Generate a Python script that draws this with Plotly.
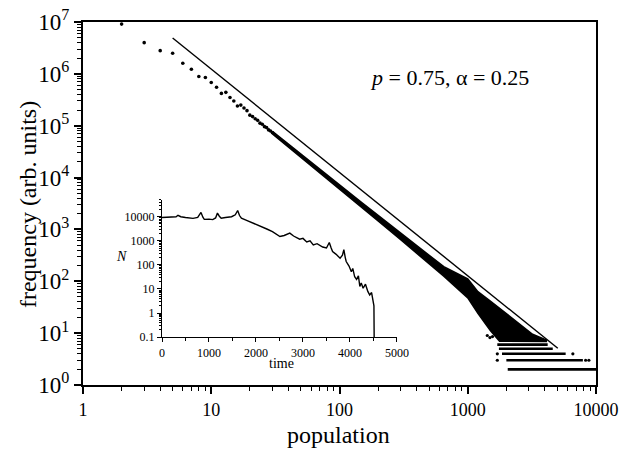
import plotly.graph_objects as go

# ---------------- data ----------------
# individual points (population, frequency) at small populations
pop_sparse = [2, 3, 4, 5, 6, 7, 8, 9, 10, 11, 12, 13, 14, 15, 16, 17, 18, 19, 20,
              21, 22, 23, 24, 25, 26, 27, 28, 29, 30]
freq_sparse = [9.1e6, 4.0e6, 2.8e6, 2.5e6, 1.6e6, 1.23e6, 8.9e5, 8.5e5, 6.8e5, 5.5e5,
               4.2e5, 4.4e5, 3.5e5, 3.0e5, 2.4e5, 2.5e5, 2.2e5, 1.95e5, 1.6e5,
               1.5e5, 1.36e5, 1.27e5, 1.12e5, 1.07e5, 9.6e4, 9.2e4, 8.3e4, 7.9e4, 7.3e4]

# dense cloud of points: upper and lower envelope
band_pop_upper = [30, 60, 100, 150, 200, 300, 450, 650, 1000, 1200, 1500, 1770, 2200, 2600,
                  3200, 4100]
band_freq_upper = [77600, 19500, 7240, 3240, 1860, 851, 389, 191, 112, 63, 41.7, 30.2,
                   20.0, 14.1, 9.5, 7.4]
band_pop_lower = [4100, 1770, 1500, 1200, 1000, 650, 450, 300, 200, 150, 100, 60, 30]
band_freq_lower = [6.9, 7.0, 11.2, 24.0, 47.9, 126, 275, 631, 1462, 2630, 6030, 17200, 69200]

# scattered outliers in the tail
pop_out = [1420, 1490, 1560, 2140, 2420, 2570, 2720, 3060, 3450, 1700, 6600, 1700, 8300, 8800]
freq_out = [9.0, 8.2, 8.6, 17.9, 14.4, 12.4, 11.5, 7.9, 7.4, 4, 4, 3, 3, 3]

# discrete frequency rows in the tail
row_freq = [6, 5, 4, 3, 2]
row_start = [1700, 1750, 1850, 2000, 2050]
row_end = [4200, 4600, 5800, 7900, 10000]

# reference power-law line (end points)
fit_pop = [5, 5035]
fit_freq = [4.9e6, 5.1]

# inset: N versus time
time_vals = [0, 100, 200, 300, 340, 400, 500, 600, 660, 760, 830, 870, 900, 1000, 1080, 1140,
             1180, 1220, 1260, 1350, 1480, 1560, 1610, 1650, 1690, 1800, 1940, 2050, 2150,
             2230, 2350, 2450, 2510, 2600, 2720, 2800, 2930, 3000, 3080, 3150, 3220, 3300,
             3420, 3500, 3560, 3600, 3630, 3700, 3790, 3840, 3870, 3900, 3920, 3980, 4030,
             4060, 4100, 4140, 4180, 4210, 4240, 4280, 4330, 4380, 4420, 4460, 4490, 4510, 4515]
N_vals = [9330, 9550, 9120, 10000, 11500, 10000, 9330, 8910, 8510, 9330, 15100, 9550, 7760,
          7940, 7590, 8910, 14100, 10500, 8710, 9330, 10000, 12000, 18200, 11200, 8710, 7080,
          5500, 4470, 3550, 3090, 2400, 1860, 1510, 1660, 2090, 1580, 1170, 1260, 890, 1000,
          680, 760, 550, 500, 850, 500, 355, 280, 190, 250, 430, 200, 138, 89, 52, 71, 32,
          25, 35, 12.6, 17.8, 10.7, 15.8, 7.9, 5.6, 7.1, 3.5, 2.0, 0.1]

main_ticks = [1, 10, 100, 1000, 10000]
main_ticktext = ["1", "10", "100", "1000", "10000"]
y_ticks = [1, 10, 100, 1000, 1e4, 1e5, 1e6, 1e7]
y_ticktext = ["10<sup>%d</sup>" % k for k in range(8)]
inset_yticks = [0.1, 1, 10, 100, 1000, 10000]
inset_yticktext = ["0.1", "1", "10", "100", "1000", "10000"]
inset_xticks = [0, 1000, 2000, 3000, 4000, 5000]

# ---------------- figure ----------------
SERIF = "Liberation Serif"
fig = go.Figure()

# dense band
fig.add_trace(go.Scatter(
    x=band_pop_upper + band_pop_lower, y=band_freq_upper + band_freq_lower,
    mode="lines", fill="toself", fillcolor="black",
    line=dict(color="black", width=1.5), hoverinfo="skip"))

# rows
rx, ry = [], []
for f, s, e in zip(row_freq, row_start, row_end):
    rx += [s, e, None]
    ry += [f, f, None]
fig.add_trace(go.Scatter(x=rx, y=ry, mode="lines",
                         line=dict(color="black", width=2.6)))

# sparse points + outliers
fig.add_trace(go.Scatter(x=pop_sparse, y=freq_sparse, mode="markers",
                         marker=dict(color="black", size=3.6)))
fig.add_trace(go.Scatter(x=pop_out, y=freq_out, mode="markers",
                         marker=dict(color="black", size=3.2)))

# power-law line
fig.add_trace(go.Scatter(x=fit_pop, y=fit_freq, mode="lines",
                         line=dict(color="black", width=1.4)))

# inset series
fig.add_trace(go.Scatter(x=time_vals, y=N_vals, mode="lines", xaxis="x2", yaxis="y2",
                         line=dict(color="black", width=1.4)))

minor_x = [m * 10 ** k for k in range(4) for m in range(2, 10)]
minor_y = [m * 10 ** k for k in range(7) for m in range(2, 10)]
minor_y2 = [m * 10 ** k for k in range(-1, 5) for m in range(2, 10)]

axis_common = dict(showgrid=False, zeroline=False, showline=True, linecolor="black",
                   ticks="outside", tickcolor="black", automargin=False)

fig.update_layout(
    template="none",
    width=621, height=451,
    margin=dict(l=83, r=25, t=22, b=66),
    font=dict(family=SERIF, color="black"),
    plot_bgcolor="rgba(0,0,0,0)", paper_bgcolor="white",
    showlegend=False,
    xaxis=dict(type="log", range=[0, 4], domain=[0, 1], linewidth=2, mirror=True,
               tickmode="array", tickvals=main_ticks, ticktext=main_ticktext,
               ticklen=7, tickwidth=1.5,
               tickfont=dict(family=SERIF, size=18, color="black"),
               minor=dict(tickmode="array", tickvals=minor_x, ticks="outside",
                          ticklen=4, tickwidth=1, tickcolor="black", showgrid=False),
               **axis_common),
    yaxis=dict(type="log", range=[0, 7], domain=[0, 1], linewidth=2, mirror=True,
               tickmode="array", tickvals=y_ticks, ticktext=y_ticktext,
               ticklen=7, tickwidth=1.5,
               tickfont=dict(family=SERIF, size=23, color="black"),
               minor=dict(tickmode="array", tickvals=minor_y, ticks="outside",
                          ticklen=4, tickwidth=1, tickcolor="black", showgrid=False),
               **axis_common),
    xaxis2=dict(anchor="y2", domain=[0.154, 0.612], range=[0, 5000], linewidth=1.3,
                tickmode="array", tickvals=inset_xticks, ticklen=4, tickwidth=1,
                tickfont=dict(family=SERIF, size=12, color="black"),
                minor=dict(dtick=500, ticks="outside", ticklen=3, tickwidth=1,
                           tickcolor="black", showgrid=False),
                **axis_common),
    yaxis2=dict(anchor="x2", domain=[0.132, 0.51], type="log", range=[-1, 4.7],
                linewidth=1.3, tickmode="array", tickvals=inset_yticks,
                ticktext=inset_yticktext, ticklen=4, tickwidth=1,
                tickfont=dict(family=SERIF, size=12, color="black"),
                minor=dict(tickmode="array", tickvals=minor_y2, ticks="outside",
                           ticklen=2, tickwidth=1, tickcolor="black", showgrid=False),
                **axis_common),
    annotations=[
        dict(text="population", xref="paper", yref="paper", x=0.499, y=-0.138,
             showarrow=False, font=dict(family=SERIF, size=24, color="black"),
             xanchor="center", yanchor="middle"),
        dict(text="frequency (arb. units)", xref="paper", yref="paper", x=-0.107, y=0.496,
             showarrow=False, textangle=-90,
             font=dict(family=SERIF, size=24, color="black"),
             xanchor="center", yanchor="middle"),
        dict(text="<i>p</i> = 0.75, α = 0.25", xref="paper", yref="paper", x=0.715, y=0.847,
             showarrow=False, font=dict(family=SERIF, size=22, color="black"),
             xanchor="center", yanchor="middle"),
        dict(text="time", xref="paper", yref="paper", x=0.387, y=0.06,
             showarrow=False, font=dict(family=SERIF, size=14, color="black"),
             xanchor="center", yanchor="middle"),
        dict(text="<i>N</i>", xref="paper", yref="paper", x=0.076, y=0.353,
             showarrow=False, font=dict(family=SERIF, size=14, color="black"),
             xanchor="center", yanchor="middle"),
    ],
)

fig.write_html("out.html",
               config={"displayModeBar": False},
               post_script="document.body.style.margin='0';"
                           "document.body.style.overflow='hidden';")
